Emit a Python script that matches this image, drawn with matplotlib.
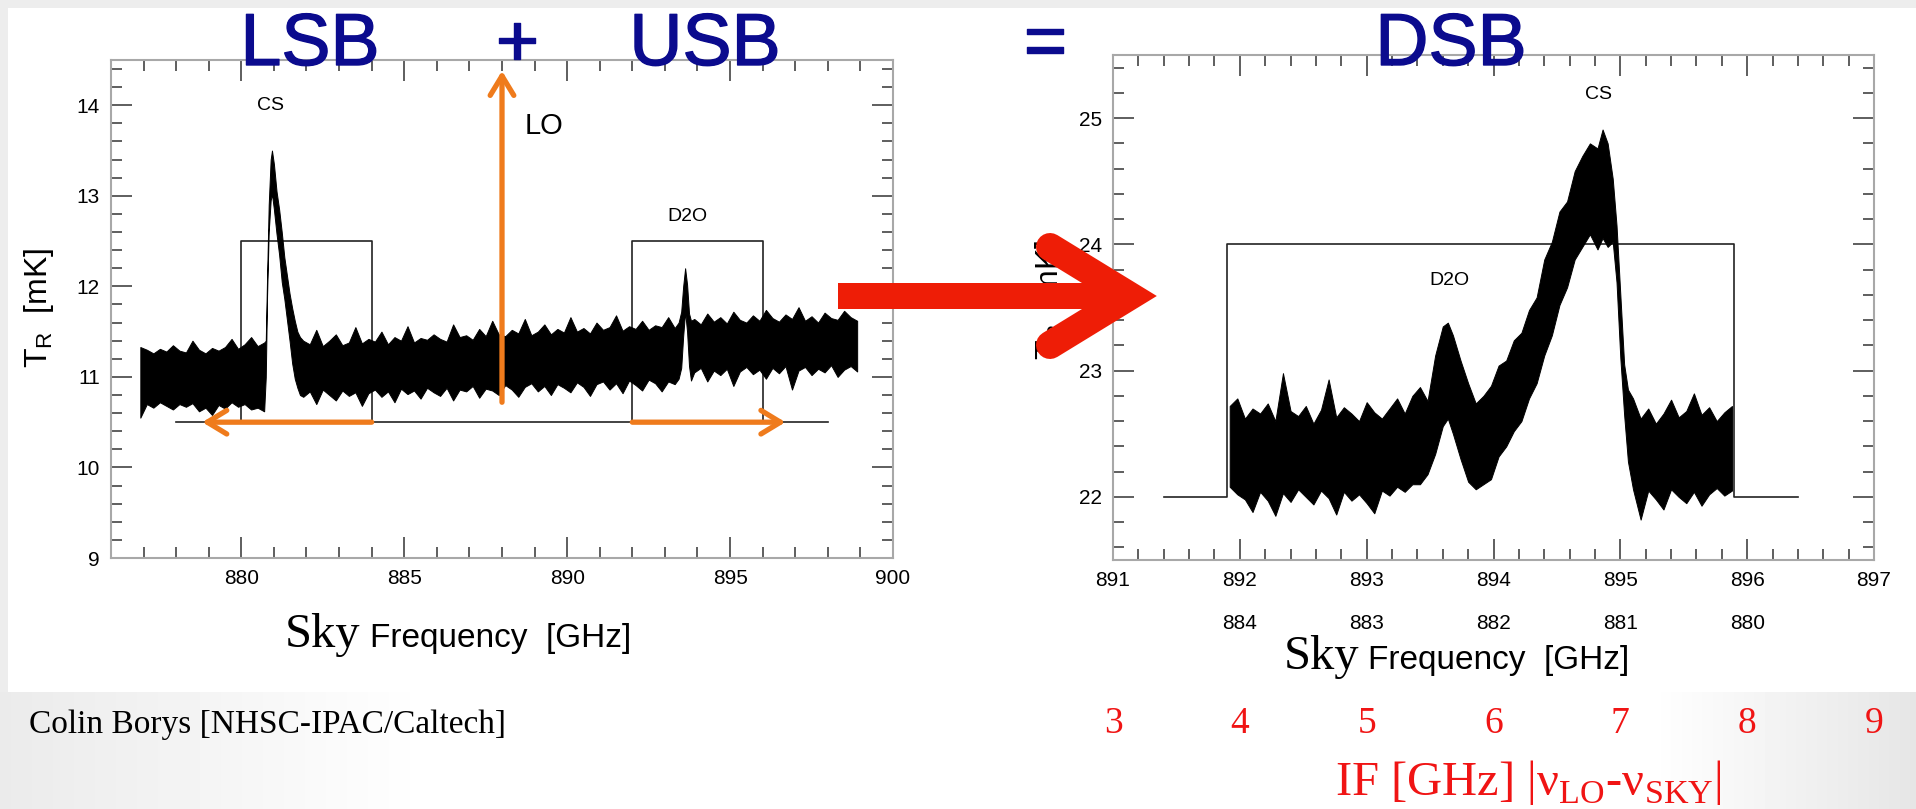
import matplotlib.pyplot as plt
import matplotlib.patheffects as pe
import matplotlib.transforms as mtransforms
import numpy as np
from matplotlib.lines import Line2D
from matplotlib.patches import FancyArrowPatch, Rectangle
from matplotlib.ticker import MultipleLocator

plt.rcParams['font.family'] = ['Liberation Sans', 'DejaVu Sans']

W, H = 1916, 809
SERIF = ['Liberation Serif', 'DejaVu Serif']
NAVY = '#0b0b8e'
ORANGE = '#ef7b1c'
RED = '#ee1d06'

# --- left panel: single-sideband spectrum (sky frequency, GHz / T_R, mK) ---
left_freq = np.concatenate([
    np.round(np.arange(876.9, 880.71, 0.2), 2),
    [880.75, 880.79, 880.84, 880.90, 880.94, 881.00, 881.08, 881.16,
     881.24, 881.32, 881.40, 881.48, 881.56, 881.64, 881.72, 881.80],
    np.round(np.arange(881.9, 893.31, 0.2), 2),
    [893.42, 893.50, 893.56, 893.62, 893.68, 893.74, 893.80],
    np.round(np.arange(893.9, 898.91, 0.2), 2),
])
left_upper = [
    11.33, 11.30, 11.26, 11.31, 11.28, 11.35, 11.29, 11.27, 11.40, 11.30,
    11.26, 11.32, 11.29, 11.33, 11.42, 11.31, 11.36, 11.44, 11.34, 11.38,
    # CS line
    11.40, 12.10, 12.90, 13.40, 13.50, 13.35, 13.05, 12.85,
    12.60, 12.32, 12.12, 11.92, 11.76, 11.62, 11.50, 11.44,
    # continuum between the lines
    11.40,
    11.36, 11.52, 11.34, 11.40, 11.47, 11.35, 11.38, 11.55, 11.37, 11.42,
    11.39, 11.50, 11.36, 11.44, 11.40, 11.56, 11.38, 11.43, 11.41, 11.47,
    11.42, 11.39, 11.58, 11.44, 11.46, 11.41, 11.53, 11.45, 11.62, 11.47,
    11.45, 11.52, 11.48, 11.64, 11.46, 11.50, 11.58, 11.47, 11.53, 11.49,
    11.66, 11.50, 11.54, 11.48, 11.60, 11.52, 11.55, 11.68, 11.51, 11.56,
    11.53, 11.62, 11.52, 11.57, 11.55, 11.66, 11.54,
    # D2O line
    11.60, 11.72, 12.00, 12.20, 12.02, 11.70, 11.62,
    # upper sideband continuum
    11.64, 11.58, 11.70, 11.61, 11.66, 11.59, 11.72, 11.63, 11.60, 11.68,
    11.62, 11.74, 11.65, 11.61, 11.69, 11.64, 11.77, 11.62, 11.67, 11.60,
    11.71, 11.65, 11.63, 11.73, 11.66, 11.62,
]
left_lower = [
    10.55, 10.70, 10.66, 10.72, 10.68, 10.64, 10.70, 10.67, 10.71, 10.62,
    10.66, 10.58, 10.69, 10.65, 10.72, 10.67, 10.70, 10.64, 10.66, 10.62,
    11.00, 11.90, 12.60, 12.95, 13.02, 12.85, 12.58, 12.35,
    12.05, 11.86, 11.63, 11.40, 11.15, 10.98, 10.88, 10.80,
    10.78,
    10.84, 10.70, 10.86, 10.80, 10.74, 10.85, 10.79, 10.83, 10.68, 10.82,
    10.86, 10.78, 10.84, 10.72, 10.87, 10.81, 10.85, 10.76, 10.88, 10.83,
    10.79, 10.88, 10.74, 10.86, 10.84, 10.90, 10.77, 10.87, 10.85, 10.80,
    10.91, 10.86, 10.78, 10.89, 10.93, 10.84, 10.90, 10.80, 10.92, 10.88,
    10.83, 10.94, 10.89, 10.79, 10.92, 10.95, 10.86, 10.93, 10.82, 10.96,
    10.91, 10.85, 10.97, 10.93, 10.84, 10.95, 10.92,
    10.98, 11.10, 11.45, 11.72, 11.50, 11.12, 10.96,
    11.05, 11.10, 10.95, 11.07, 11.02, 11.09, 10.90, 11.06, 11.11, 11.03,
    11.08, 10.98, 11.10, 11.04, 11.12, 10.86, 11.07, 11.11, 11.02, 11.09,
    11.05, 11.13, 11.00, 11.08, 11.12, 11.06,
]

# sideband passbands drawn as boxes under the spectrum
lo_freq = 888.0
lsb_band = (880.0, 884.0)
usb_band = (892.0, 896.0)
band_base, band_top = 10.5, 12.5
band_ends = (878.0, 898.0)

# --- right panel: double-sideband spectrum ---
right_freq = np.concatenate([
    np.round(np.arange(891.92, 893.37, 0.06), 2),
    [893.42, 893.48, 893.54, 893.60, 893.64, 893.68, 893.74, 893.80, 893.86,
     893.92, 893.98, 894.04, 894.10, 894.16, 894.22, 894.28, 894.34, 894.40,
     894.46, 894.52, 894.58, 894.64, 894.70, 894.76, 894.82, 894.86, 894.90,
     894.94, 894.97, 895.00, 895.03, 895.06, 895.10],
    np.round(np.arange(895.16, 895.89, 0.06), 2),
])
right_upper = [
    22.72, 22.78, 22.62, 22.70, 22.66, 22.74, 22.60, 22.98, 22.68, 22.64,
    22.72, 22.58, 22.69, 22.93, 22.63, 22.71, 22.66, 22.60, 22.75, 22.67,
    22.62, 22.70, 22.78, 22.66, 22.80,
    22.87, 22.76, 23.12, 23.35, 23.38, 23.28, 23.08, 22.90, 22.74, 22.80,
    22.88, 23.04, 23.08, 23.24, 23.30, 23.48, 23.58, 23.88, 24.02, 24.26,
    24.34, 24.58, 24.70, 24.80, 24.76, 24.91, 24.80, 24.52, 24.15, 23.60,
    23.05, 22.85, 22.78,
    22.62, 22.70, 22.58, 22.66, 22.77, 22.63, 22.68, 22.82, 22.65, 22.71,
    22.60, 22.67, 22.72,
]
right_lower = [
    22.08, 22.02, 21.98, 21.88, 22.04, 21.97, 21.85, 22.03, 21.96, 22.06,
    22.00, 21.94, 22.05, 21.99, 21.86, 22.04, 21.97, 22.02, 21.95, 21.87,
    22.05, 22.01, 22.08, 22.04, 22.10,
    22.10, 22.18, 22.34, 22.56, 22.62, 22.50, 22.30, 22.12, 22.06, 22.10,
    22.14, 22.32, 22.40, 22.52, 22.60, 22.78, 22.90, 23.12, 23.28, 23.52,
    23.66, 23.88, 23.98, 24.08, 23.96, 24.05, 23.98, 24.02, 23.70, 23.10,
    22.65, 22.28, 22.06,
    21.82, 22.05, 21.98, 21.90, 22.06, 22.00, 21.95, 22.04, 21.93, 22.02,
    22.07, 22.01, 22.05,
]
dsb_box_x = [891.4, 891.9, 891.9, 895.9, 895.9, 896.4]
dsb_box_y = [22.0, 22.0, 24.0, 24.0, 22.0, 22.0]

usb_ticks = [892, 893, 894, 895, 896]
lsb_ticks = [884, 883, 882, 881, 880]
if_values = [3, 4, 5, 6, 7, 8, 9]


def fx(x):
    return x / W


def fy(y):
    return 1 - y / H


def style_axes(ax, xmaj, xmin, ymaj, ymin):
    ax.xaxis.set_major_locator(MultipleLocator(xmaj))
    ax.xaxis.set_minor_locator(MultipleLocator(xmin))
    ax.yaxis.set_major_locator(MultipleLocator(ymaj))
    ax.yaxis.set_minor_locator(MultipleLocator(ymin))
    ax.tick_params(which='both', direction='in', top=True, right=True,
                   color='#333333', width=1.1, labelsize=15)
    ax.tick_params(which='major', length=15)
    ax.tick_params(which='minor', length=8)
    ax.tick_params(axis='x', pad=8)
    ax.tick_params(axis='y', pad=8)
    for sp in ax.spines.values():
        sp.set_color('#a8a8a8')
        sp.set_linewidth(1.5)


fig = plt.figure(figsize=(W / 100, H / 100), dpi=100)
fig.patch.set_facecolor('#ededed')

# slide background
ax_bg = fig.add_axes([0, 0, 1, 1], zorder=-5)
ax_bg.add_patch(Rectangle((8, 8), W - 8, 684, color='white', lw=0))
shade = np.interp(np.arange(W), [0, 430, 1650, W], [0.92, 1.0, 1.0, 0.9])
ax_bg.imshow(shade[np.newaxis, :], extent=(0, W, H, 692), cmap='gray',
             vmin=0, vmax=1, aspect='auto')
ax_bg.set_xlim(0, W)
ax_bg.set_ylim(H, 0)
ax_bg.axis('off')

# left panel
axl = fig.add_axes([fx(111), fy(558), fx(893) - fx(111), fy(60) - fy(558)])
axl.plot([band_ends[0], lsb_band[0], lsb_band[0], lsb_band[1], lsb_band[1],
          usb_band[0], usb_band[0], usb_band[1], usb_band[1], band_ends[1]],
         [band_base, band_base, band_top, band_top, band_base,
          band_base, band_top, band_top, band_base, band_base],
         color='#222222', lw=1.2, zorder=2)
axl.fill_between(left_freq, left_lower, left_upper, color='black',
                 edgecolor='black', lw=0.7, zorder=3)
axl.set_xlim(876, 900)
axl.set_ylim(9, 14.5)
style_axes(axl, 5, 1, 1, 0.2)

arrow_kw = dict(arrowstyle='->, head_length=14, head_width=8.5',
                mutation_scale=1, color=ORANGE, lw=3.8, shrinkA=0,
                shrinkB=0, capstyle='round', joinstyle='round', zorder=5)
axl.add_patch(FancyArrowPatch((lo_freq, 10.72), (lo_freq, 14.38), **arrow_kw))
axl.add_patch(FancyArrowPatch((lsb_band[1], band_base), (878.8, band_base),
                              **arrow_kw))
axl.add_patch(FancyArrowPatch((usb_band[0], band_base), (896.7, band_base),
                              **arrow_kw))
axl.text(889.3, 13.77, 'LO', fontsize=21, ha='center', va='center')
axl.text(880.9, 14.0, 'CS', fontsize=14, ha='center', va='center')
axl.text(893.7, 12.77, 'D2O', fontsize=14, ha='center', va='center')

# right panel
axr = fig.add_axes([fx(1113), fy(560), fx(1874) - fx(1113), fy(55) - fy(560)])
axr.plot(dsb_box_x, dsb_box_y, color='#222222', lw=1.2, zorder=2)
axr.fill_between(right_freq, right_lower, right_upper, color='black',
                 edgecolor='black', lw=0.7, zorder=3)
axr.set_xlim(891, 897)
axr.set_ylim(21.5, 25.5)
style_axes(axr, 1, 0.2, 1, 0.2)
axr.text(894.83, 25.19, 'CS', fontsize=14, ha='center', va='center')
axr.text(893.65, 23.71, 'D2O', fontsize=14, ha='center', va='center')

# image-sideband sky frequencies under the USB ticks
row2 = mtransforms.blended_transform_factory(axr.transData, axr.transAxes)
for f_usb, f_lsb in zip(usb_ticks, lsb_ticks):
    axr.text(f_usb, -0.125, str(f_lsb), transform=row2, fontsize=15,
             ha='center', va='center')

# intermediate frequency scale
if_row = mtransforms.blended_transform_factory(axr.transData, fig.transFigure)
for v in if_values:
    axr.text(lo_freq + v, fy(733), str(v), transform=if_row, fontsize=27,
             family=SERIF, color='#f01414', ha='center', va='baseline',
             clip_on=False)
fig.text(fx(1528), fy(795), r'IF [GHz] |ν$_\mathregular{LO}$-ν$_\mathregular{SKY}$|',
         fontsize=35, family=SERIF, color='#f01414', ha='center', va='baseline')

# axis titles
for x0, x1, base in [(285, 370, 647), (1284, 1368, 669)]:
    fig.text(fx(x0), fy(base), 'Sky', fontsize=35, family=SERIF,
             ha='left', va='baseline')
    fig.text(fx(x1), fy(base), 'Frequency  [GHz]', fontsize=24,
             ha='left', va='baseline')
for xc, yc in [(39, 308), (1050, 300)]:
    fig.text(fx(xc), fy(yc), r'T$_\mathregular{R}$  [mK]', fontsize=23,
             rotation=90, ha='center', va='center')

fig.text(fx(29), fy(733), 'Colin Borys [NHSC-IPAC/Caltech]', fontsize=24,
         family=SERIF, ha='left', va='baseline')

# foreground: headline and the big arrow
ax_fg = fig.add_axes([0, 0, 1, 1], zorder=10)
ax_fg.set_xlim(0, W)
ax_fg.set_ylim(H, 0)
ax_fg.axis('off')
heavy = [pe.withStroke(linewidth=1.0, foreground=NAVY)]
for word, xc in [('LSB', 310), ('+', 517), ('USB', 705), ('=', 1045), ('DSB', 1451)]:
    ax_fg.text(xc, 65, word, fontsize=53, color=NAVY, ha='center',
               va='baseline', path_effects=heavy)

ax_fg.add_line(Line2D([838, 1128], [296, 296], lw=26 * 0.72, color=RED,
                      solid_capstyle='butt'))
ax_fg.add_line(Line2D([1050, 1130, 1050], [247, 296, 345], lw=28 * 0.72,
                      color=RED, solid_capstyle='round', solid_joinstyle='miter'))

fig.savefig('out.png', dpi=100, facecolor=fig.get_facecolor())
